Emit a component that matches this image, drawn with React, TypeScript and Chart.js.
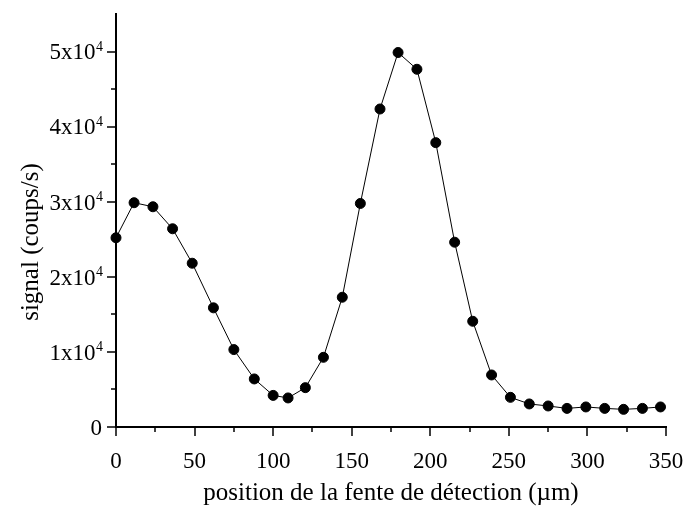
import React, { useEffect, useRef } from "react";
import { Chart, registerables } from "chart.js";
Chart.register(...registerables);

const positions = [0, 11.5, 23.5, 36, 48.5, 62, 75, 88, 100, 109.5, 120.5, 132, 144, 155.5, 168, 179.5, 191.5, 203.5, 215.5, 227, 239, 251, 263, 275, 287, 299, 311, 323, 335, 346.5];
const signal = [25200, 29870, 29330, 26400, 21810, 15870, 10310, 6400, 4210, 3870, 5240, 9280, 17280, 29770, 42350, 49870, 47640, 37870, 24610, 14080, 6930, 3950, 3070, 2800, 2480, 2670, 2480, 2350, 2480, 2670];
const xTickValues = [0, 50, 100, 150, 200, 250, 300, 350];
const yTickValues = [0, 10000, 20000, 30000, 40000, 50000];
const yTickMantissas = ["0", "1x10", "2x10", "3x10", "4x10", "5x10"];
const yTickExponent = "4";
const xMinorTicks = [25, 75, 125, 175, 225, 275, 325];
const yMinorTicks = [5000, 15000, 25000, 35000, 45000];
const xTitle = "position de la fente de détection (µm)";
const yTitle = "signal (coups/s)";

const FONT = "'Liberation Serif', 'Times New Roman', serif";

const decorPlugin = {
  id: "decor",
  afterDraw(chart: any) {
    const ctx = chart.ctx;
    const xs = chart.scales.x;
    const ys = chart.scales.y;
    const area = chart.chartArea;
    ctx.save();
    ctx.strokeStyle = "#000";
    ctx.lineWidth = 1.5;
    const tick = (x1: number, y1: number, x2: number, y2: number) => {
      ctx.beginPath();
      ctx.moveTo(x1, y1);
      ctx.lineTo(x2, y2);
      ctx.stroke();
    };
    for (const v of xTickValues) {
      const px = Math.round(xs.getPixelForValue(v));
      tick(px, area.bottom, px, area.bottom + 9);
    }
    for (const v of xMinorTicks) {
      const px = Math.round(xs.getPixelForValue(v));
      tick(px, area.bottom, px, area.bottom + 5);
    }
    for (const v of yTickValues) {
      const py = Math.round(ys.getPixelForValue(v));
      tick(area.left, py, area.left - 9, py);
    }
    for (const v of yMinorTicks) {
      const py = Math.round(ys.getPixelForValue(v));
      tick(area.left, py, area.left - 5, py);
    }
    // x tick labels
    ctx.fillStyle = "#000";
    ctx.textBaseline = "alphabetic";
    ctx.textAlign = "center";
    ctx.font = `23px ${FONT}`;
    for (const v of xTickValues) {
      ctx.fillText(String(v), xs.getPixelForValue(v), area.bottom + 41);
    }
    // y tick labels with superscript
    yTickValues.forEach((v, i) => {
      const py = ys.getPixelForValue(v);
      const right = area.left - 13;
      if (v === 0) {
        ctx.font = `23px ${FONT}`;
        ctx.textAlign = "right";
        ctx.fillText(yTickMantissas[i], right - 1, py + 7.8);
      } else {
        ctx.font = `14px ${FONT}`;
        ctx.textAlign = "left";
        const supW = ctx.measureText(yTickExponent).width;
        const supX = right - supW;
        ctx.fillText(yTickExponent, supX, py - 0.5);
        ctx.font = `23px ${FONT}`;
        ctx.textAlign = "right";
        ctx.fillText(yTickMantissas[i], supX - 0.5, py + 7.8);
      }
    });
    // axis titles
    ctx.font = `25px ${FONT}`;
    ctx.textAlign = "center";
    ctx.textBaseline = "alphabetic";
    ctx.fillText(xTitle, (area.left + area.right) / 2, 500);
    ctx.translate(37.5, 242);
    ctx.rotate(-Math.PI / 2);
    ctx.fillText(yTitle, 0, 0);
    ctx.restore();
  },
};

export default function App() {
  const ref = useRef<HTMLCanvasElement | null>(null);
  useEffect(() => {
    document.body.style.margin = "0";
    const canvas = ref.current!;
    Chart.defaults.font.family = FONT;
    Chart.defaults.color = "#000";
    const chart = new Chart(canvas, {
      type: "scatter",
      data: {
        datasets: [
          {
            data: positions.map((x, i) => ({ x, y: signal[i] })),
            showLine: true,
            borderColor: "#000",
            borderWidth: 1,
            backgroundColor: "#000",
            pointBackgroundColor: "#000",
            pointBorderColor: "#000",
            pointRadius: 5,
            pointHoverRadius: 5,
            clip: false,
          } as any,
        ],
      },
      options: {
        animation: false,
        responsive: false,
        devicePixelRatio: 1,
        layout: { padding: { left: 116, top: 14, right: 19, bottom: 82 } },
        plugins: { legend: { display: false }, tooltip: { enabled: false } },
        scales: {
          x: {
            type: "linear",
            min: 0,
            max: 350,
            afterFit: (s: any) => {
              s.height = 0;
            },
            ticks: { display: false, stepSize: 50, includeBounds: false },
            grid: { display: false },
            border: { display: true, color: "#000", width: 2 },
          },
          y: {
            type: "linear",
            min: 0,
            max: 55000,
            afterFit: (s: any) => {
              s.width = 0;
            },
            ticks: { display: false, stepSize: 10000, includeBounds: false },
            grid: { display: false },
            border: { display: true, color: "#000", width: 2 },
          },
        },
      },
      plugins: [decorPlugin],
    });
    return () => chart.destroy();
  }, []);
  return (
    <div style={{ width: 685, height: 509, background: "#fff" }}>
      <canvas ref={ref} width={685} height={509} style={{ display: "block" }} />
    </div>
  );
}
